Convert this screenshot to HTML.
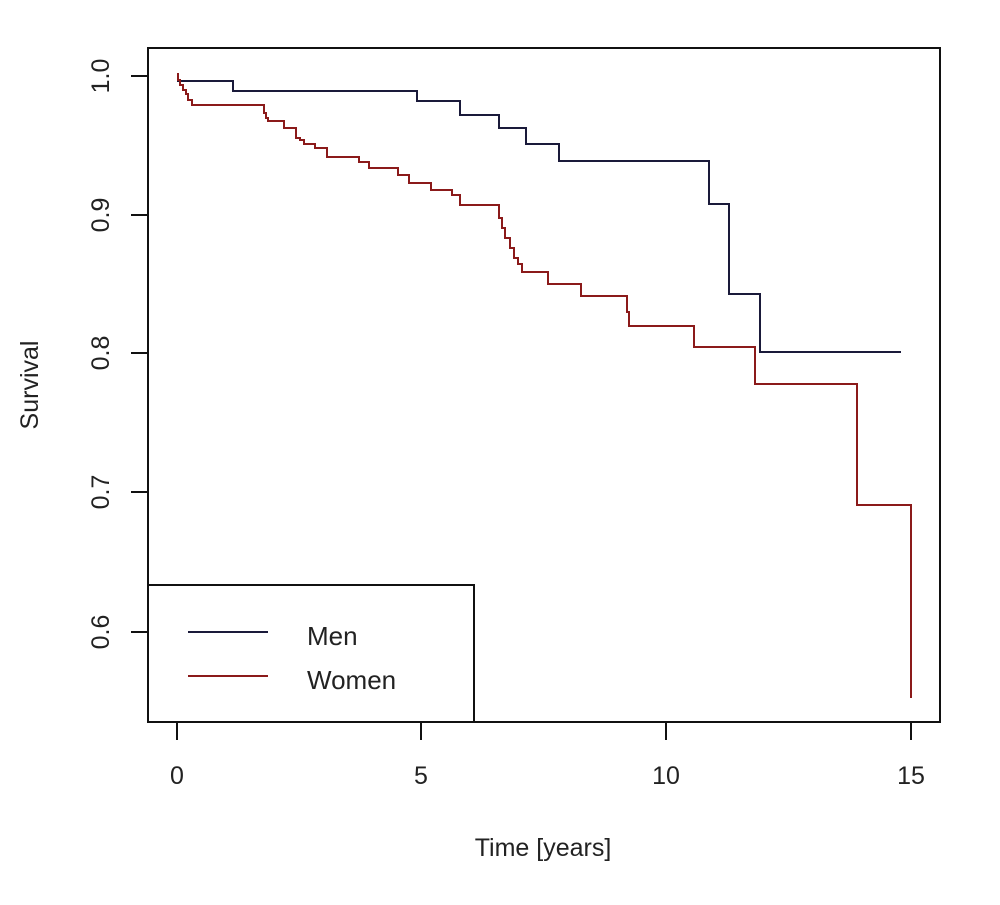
<!DOCTYPE html>
<html><head><meta charset="utf-8"><style>body{margin:0;background:#fff}svg{display:block}text{font-family:"Liberation Sans",Arial,sans-serif;fill:#222}</style></head><body>
<svg width="1000" height="905" viewBox="0 0 1000 905">
<rect x="148" y="48" width="792" height="674" fill="none" stroke="#111" stroke-width="2"/>
<g stroke="#111" stroke-width="2">
<line x1="177" y1="722" x2="177" y2="740"/><line x1="421" y1="722" x2="421" y2="740"/><line x1="666" y1="722" x2="666" y2="740"/><line x1="911" y1="722" x2="911" y2="740"/>
<line x1="131" y1="76" x2="148" y2="76"/><line x1="131" y1="215" x2="148" y2="215"/><line x1="131" y1="353" x2="148" y2="353"/><line x1="131" y1="492" x2="148" y2="492"/><line x1="131" y1="632" x2="148" y2="632"/>
</g>
<g font-size="25" text-anchor="middle">
<text x="177" y="784">0</text><text x="421" y="784">5</text><text x="666" y="784">10</text><text x="911" y="784">15</text>
<text transform="translate(109,76) rotate(-90)">1.0</text>
<text transform="translate(109,215) rotate(-90)">0.9</text>
<text transform="translate(109,353) rotate(-90)">0.8</text>
<text transform="translate(109,492) rotate(-90)">0.7</text>
<text transform="translate(109,632) rotate(-90)">0.6</text>
<text x="543" y="856">Time [years]</text>
<text transform="translate(38,385) rotate(-90)">Survival</text>
</g>
<polyline fill="none" stroke="#1a1a3a" stroke-width="2" points="177,74 178,74 178,81 233,81 233,91 417,91 417,101 460,101 460,115 499,115 499,128 526,128 526,144 559,144 559,161 709,161 709,204 729,204 729,294 760,294 760,352 901,352"/>
<polyline fill="none" stroke="#8b1a1a" stroke-width="2" points="177,74 178,74 178,80 180,80 180,85 183,85 183,90 186,90 186,94 188,94 188,100 192,100 192,105 264,105 264,113 266,113 266,118 268,118 268,121 284,121 284,128 296,128 296,138 300,138 300,140 304,140 304,144 315,144 315,148 327,148 327,157 359,157 359,162 369,162 369,168 398,168 398,175 409,175 409,183 431,183 431,190 452,190 452,195 460,195 460,205 499,205 499,218 502,218 502,228 505,228 505,238 510,238 510,248 514,248 514,258 518,258 518,264 522,264 522,272 548,272 548,284 581,284 581,296 627,296 627,312 629,312 629,326 694,326 694,347 755,347 755,384 857,384 857,505 911,505 911,698"/>
<rect x="148" y="585" width="326" height="137" fill="#fff" stroke="#111" stroke-width="2"/>
<line x1="188" y1="632" x2="268" y2="632" stroke="#1a1a3a" stroke-width="2"/>
<line x1="188" y1="676" x2="268" y2="676" stroke="#8b1a1a" stroke-width="2"/>
<text x="307" y="645" font-size="26">Men</text>
<text x="307" y="689" font-size="26">Women</text>
</svg>
</body></html>
